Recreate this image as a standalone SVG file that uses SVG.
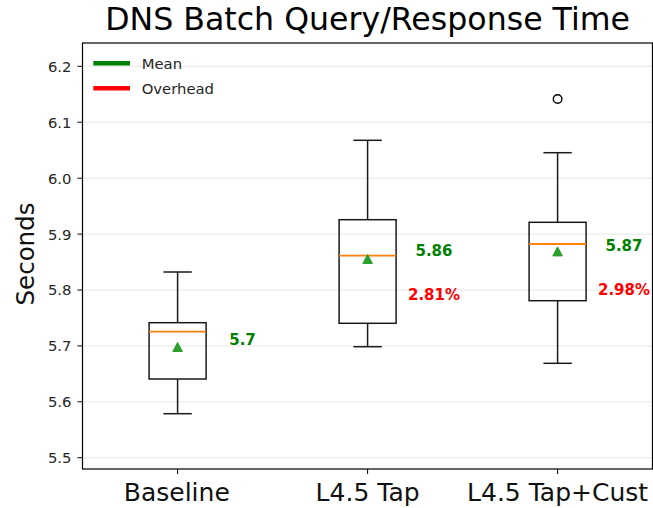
<svg xmlns="http://www.w3.org/2000/svg" width="653" height="508" viewBox="0 0 653 508">
  <style>
    text { font-family: "DejaVu Sans", "Liberation Sans", sans-serif; }
    .grid { stroke: #e6e6e6; stroke-width: 1; }
    .tick { stroke: #000; stroke-width: 1; }
    .ylab { font-size: 14.8px; fill: #262626; text-anchor: end; }
    .xlab { font-size: 25px; fill: #111; text-anchor: middle; }
    .box { fill: none; stroke: #1a1a1a; stroke-width: 1.5; }
    .whisker { stroke: #1a1a1a; stroke-width: 1.5; fill: none; }
    .median { stroke: #ff7f0e; stroke-width: 1.8; }
    .mean { fill: #2ca02c; stroke: #2ca02c; stroke-width: 1; }
    .meanval { font-size: 15px; font-weight: bold; fill: #008000; text-anchor: middle; }
    .ovh { font-size: 15px; font-weight: bold; fill: #ff0000; text-anchor: middle; }
    .leg { font-size: 14.8px; fill: #262626; }
  </style>
  <defs>
    <path id="tri" d="M0,-4.8 L4.8,4.2 L-4.8,4.2 Z"/>
  </defs>

  <rect x="0" y="0" width="653" height="508" fill="#fff"/>

  <!-- title -->
  <text x="367.6" y="30" font-size="31.6px" fill="#000" text-anchor="middle">DNS Batch Query/Response Time</text>

  <!-- horizontal grid -->
  <g id="grid">
    <line class="grid" x1="82.5" x2="652.5" y1="457.7" y2="457.7"/>
    <line class="grid" x1="82.5" x2="652.5" y1="401.8" y2="401.8"/>
    <line class="grid" x1="82.5" x2="652.5" y1="345.9" y2="345.9"/>
    <line class="grid" x1="82.5" x2="652.5" y1="290.0" y2="290.0"/>
    <line class="grid" x1="82.5" x2="652.5" y1="234.1" y2="234.1"/>
    <line class="grid" x1="82.5" x2="652.5" y1="178.2" y2="178.2"/>
    <line class="grid" x1="82.5" x2="652.5" y1="122.2" y2="122.2"/>
    <line class="grid" x1="82.5" x2="652.5" y1="66.3" y2="66.3"/>
  </g>

  <!-- y axis ticks and labels -->
  <g id="y-axis">
    <line class="tick" x1="77.5" x2="82.5" y1="457.7" y2="457.7"/>
    <line class="tick" x1="77.5" x2="82.5" y1="401.8" y2="401.8"/>
    <line class="tick" x1="77.5" x2="82.5" y1="345.9" y2="345.9"/>
    <line class="tick" x1="77.5" x2="82.5" y1="290.0" y2="290.0"/>
    <line class="tick" x1="77.5" x2="82.5" y1="234.1" y2="234.1"/>
    <line class="tick" x1="77.5" x2="82.5" y1="178.2" y2="178.2"/>
    <line class="tick" x1="77.5" x2="82.5" y1="122.2" y2="122.2"/>
    <line class="tick" x1="77.5" x2="82.5" y1="66.3" y2="66.3"/>
    <text class="ylab" x="71.5" y="463.1">5.5</text>
    <text class="ylab" x="71.5" y="407.2">5.6</text>
    <text class="ylab" x="71.5" y="351.3">5.7</text>
    <text class="ylab" x="71.5" y="295.4">5.8</text>
    <text class="ylab" x="71.5" y="239.5">5.9</text>
    <text class="ylab" x="71.5" y="183.6">6.0</text>
    <text class="ylab" x="71.5" y="127.6">6.1</text>
    <text class="ylab" x="71.5" y="71.7">6.2</text>
    <text x="33.5" y="254" font-size="24.5px" fill="#111" text-anchor="middle" transform="rotate(-90 33.5 254)">Seconds</text>
  </g>

  <!-- x axis ticks and labels -->
  <g id="x-axis">
    <line class="tick" x1="177.6" x2="177.6" y1="469" y2="474"/>
    <line class="tick" x1="367.6" x2="367.6" y1="469" y2="474"/>
    <line class="tick" x1="557.6" x2="557.6" y1="469" y2="474"/>
    <text class="xlab" x="176.8" y="500.7">Baseline</text>
    <text class="xlab" x="367.6" y="500.7">L4.5 Tap</text>
    <text class="xlab" x="557.6" y="500.7">L4.5 Tap+Cust</text>
  </g>

  <!-- Baseline -->
  <g id="box-baseline">
    <line class="whisker" x1="177.6" x2="177.6" y1="272" y2="322.7"/>
    <line class="whisker" x1="177.6" x2="177.6" y1="379" y2="413.7"/>
    <line class="whisker" x1="163.4" x2="191.8" y1="272" y2="272"/>
    <line class="whisker" x1="163.4" x2="191.8" y1="413.7" y2="413.7"/>
    <rect class="box" x="149.1" y="322.7" width="57" height="56.3"/>
    <line class="median" x1="149.1" x2="206.1" y1="331.7" y2="331.7"/>
    <use href="#tri" class="mean" x="177.6" y="347.3"/>
    <text class="meanval" x="242.5" y="345">5.7</text>
  </g>

  <!-- L4.5 Tap -->
  <g id="box-l45-tap">
    <line class="whisker" x1="367.6" x2="367.6" y1="140.3" y2="219.7"/>
    <line class="whisker" x1="367.6" x2="367.6" y1="323.3" y2="346.7"/>
    <line class="whisker" x1="353.4" x2="381.8" y1="140.3" y2="140.3"/>
    <line class="whisker" x1="353.4" x2="381.8" y1="346.7" y2="346.7"/>
    <rect class="box" x="339.1" y="219.7" width="57" height="103.6"/>
    <line class="median" x1="339.1" x2="396.1" y1="255.7" y2="255.7"/>
    <use href="#tri" class="mean" x="367.6" y="259.3"/>
    <text class="meanval" x="434" y="256">5.86</text>
    <text class="ovh" x="434" y="300">2.81%</text>
  </g>

  <!-- L4.5 Tap+Cust -->
  <g id="box-l45-tap-cust">
    <line class="whisker" x1="557.6" x2="557.6" y1="152.7" y2="222.3"/>
    <line class="whisker" x1="557.6" x2="557.6" y1="300.7" y2="363.3"/>
    <line class="whisker" x1="543.4" x2="571.8" y1="152.7" y2="152.7"/>
    <line class="whisker" x1="543.4" x2="571.8" y1="363.3" y2="363.3"/>
    <rect class="box" x="529.1" y="222.3" width="57" height="78.4"/>
    <line class="median" x1="529.1" x2="586.1" y1="244" y2="244"/>
    <use href="#tri" class="mean" x="557.6" y="251.7"/>
    <circle cx="557.6" cy="99" r="4.3" fill="none" stroke="#000" stroke-width="1.4"/>
    <text class="meanval" x="624" y="250.7">5.87</text>
    <text class="ovh" x="624" y="295">2.98%</text>
  </g>

  <!-- legend -->
  <g id="legend">
    <line x1="93.3" x2="130" y1="63.3" y2="63.3" stroke="#008000" stroke-width="4.5"/>
    <text class="leg" x="141.7" y="68.5">Mean</text>
    <line x1="93.3" x2="130" y1="88.3" y2="88.3" stroke="#ff0000" stroke-width="4.5"/>
    <text class="leg" x="141.7" y="93.5">Overhead</text>
  </g>

  <!-- axes frame -->
  <rect id="frame" x="82.5" y="43" width="570" height="426" fill="none" stroke="#000" stroke-width="1.2"/>
</svg>
